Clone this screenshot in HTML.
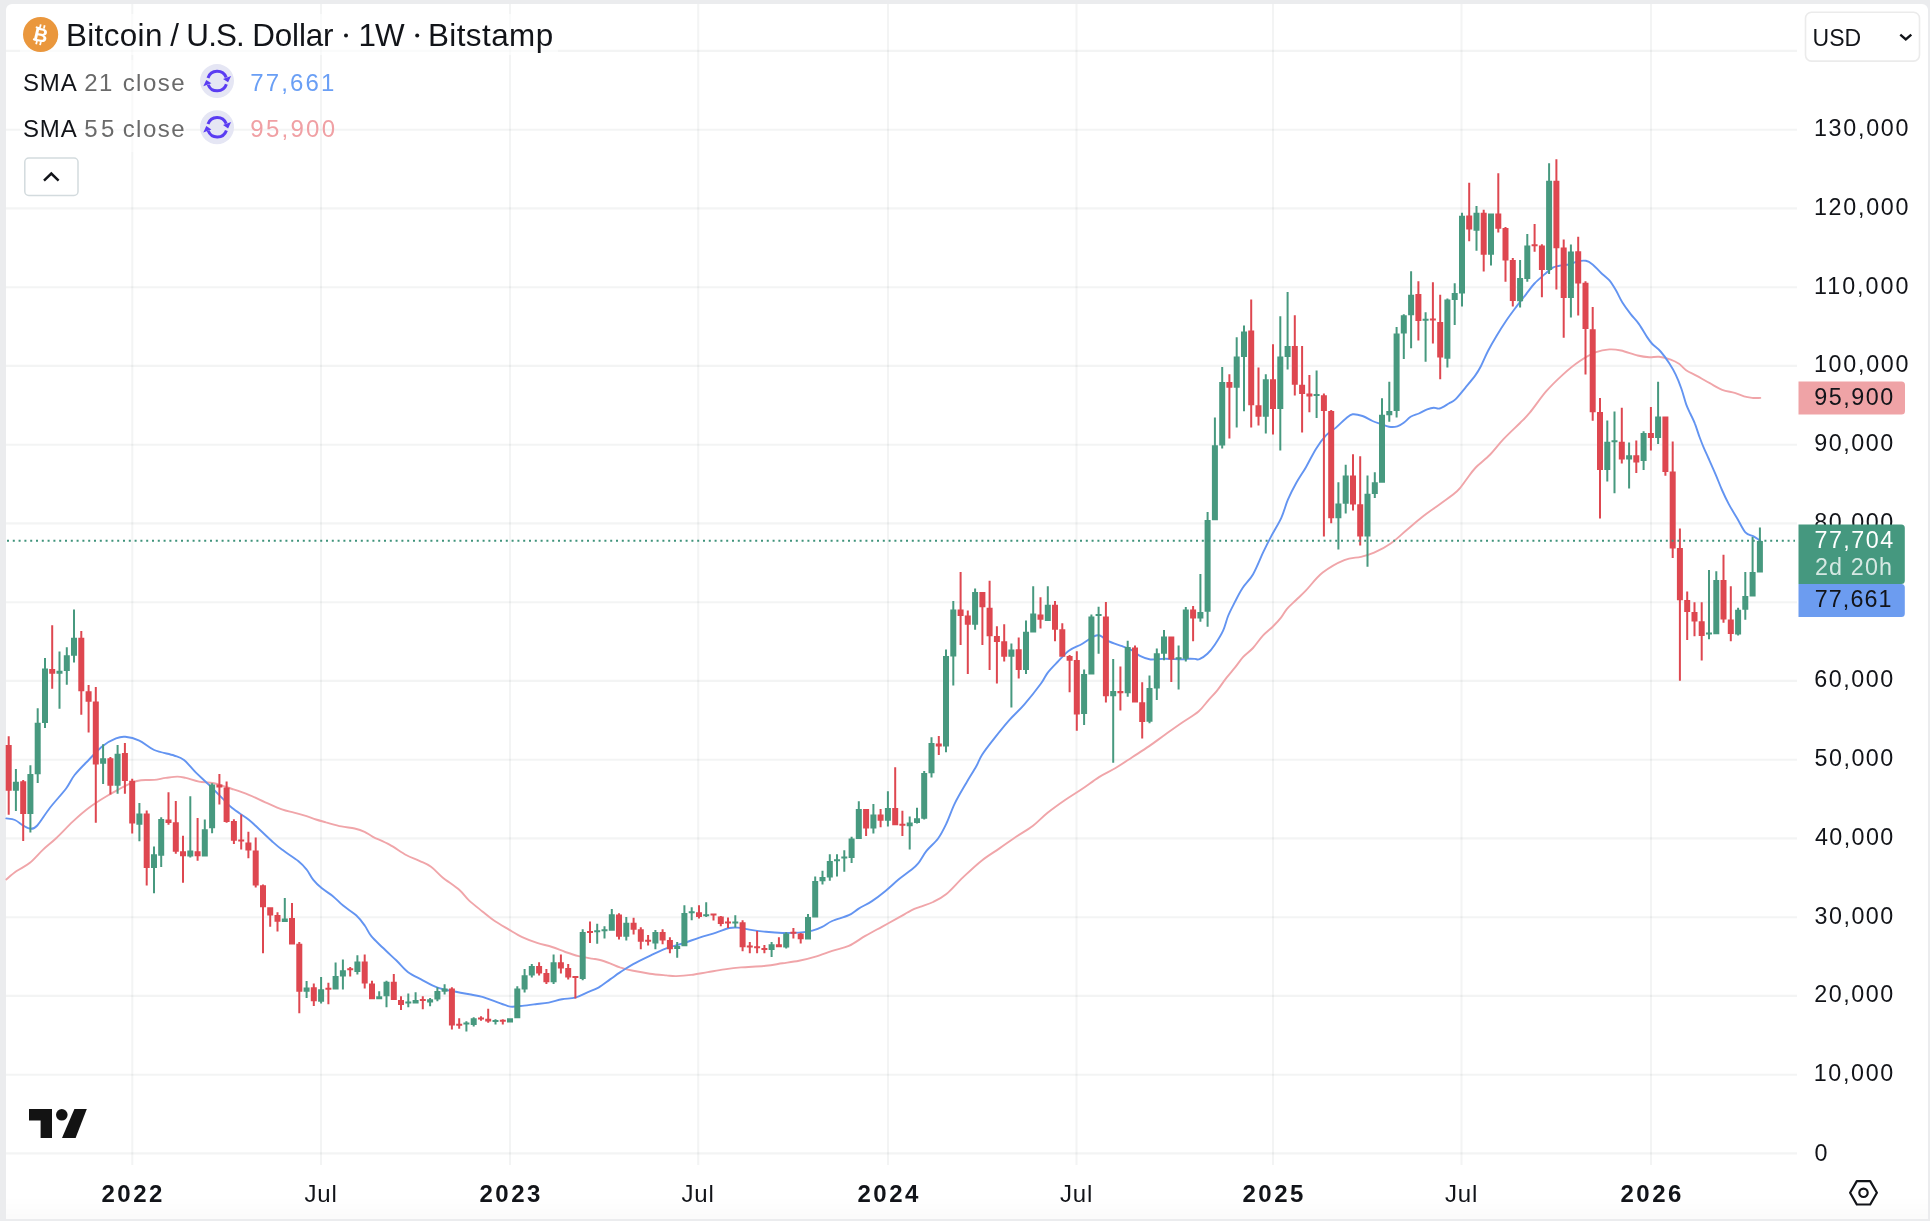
<!DOCTYPE html>
<html><head><meta charset="utf-8"><title>BTCUSD</title>
<style>
html,body{margin:0;padding:0;}
body{width:1930px;height:1221px;overflow:hidden;background:#ebecee;position:relative;font-family:"Liberation Sans",sans-serif;}
#card{position:absolute;left:6px;top:4px;width:1922px;height:1215px;background:#fff;border-radius:6px 6px 0 0;}
svg{position:absolute;left:0;top:0;will-change:transform;}
text{font-family:"Liberation Sans",sans-serif;}
</style></head><body>
<div id="card"></div>
<svg width="1930" height="1221" viewBox="0 0 1930 1221">
<defs><linearGradient id="bg" x1="0" y1="0" x2="0" y2="1"><stop offset="0" stop-color="#000" stop-opacity="0"/><stop offset="1" stop-color="#000" stop-opacity="0.018"/></linearGradient></defs>
<rect x="6" y="1196" width="1922" height="23" fill="url(#bg)"/>
<g stroke="#2a2e39" stroke-opacity="0.055" stroke-width="2.1" fill="none">
<path d="M6 1153.4 H1797"/>
<path d="M6 1074.7 H1797"/>
<path d="M6 995.9 H1797"/>
<path d="M6 917.2 H1797"/>
<path d="M6 838.4 H1797"/>
<path d="M6 759.7 H1797"/>
<path d="M6 680.9 H1797"/>
<path d="M6 602.2 H1797"/>
<path d="M6 523.4 H1797"/>
<path d="M6 444.7 H1797"/>
<path d="M6 365.9 H1797"/>
<path d="M6 287.2 H1797"/>
<path d="M6 208.4 H1797"/>
<path d="M6 129.7 H1797"/>
<path d="M6 50.9 H1797"/>
<path d="M132.3 4 V1165"/>
<path d="M321 4 V1165"/>
<path d="M510 4 V1165"/>
<path d="M698.2 4 V1165"/>
<path d="M888 4 V1165"/>
<path d="M1076.5 4 V1165"/>
<path d="M1273 4 V1165"/>
<path d="M1461.5 4 V1165"/>
<path d="M1651 4 V1165"/>
</g>
<path d="M6.3 879.4C8 878 12.7 873.9 16.6 871.1C20.5 868.3 25.5 866.4 29.9 862.8C34.3 859.2 38.7 853.7 43.1 849.6C47.5 845.5 51.4 842.7 56.4 838C61.4 833.3 67.5 826.5 73 821.4C78.5 816.3 84.1 811.4 89.6 807.3C95.1 803.1 101.1 799.5 106.1 796.5C111.1 793.5 115 791.4 119.4 789C123.8 786.6 129.1 783.9 132.7 782.4C136.3 780.9 137.4 780.6 141 780.2C144.6 779.8 150.1 780.3 154.2 779.9C158.3 779.5 161.9 778.4 165.8 777.9C169.7 777.4 174.1 776.6 177.4 776.6C180.7 776.6 182.1 777.1 185.7 777.9C189.3 778.7 194.3 780.7 199 781.6C203.7 782.5 208.4 782 213.9 783.2C219.4 784.4 226.4 787.1 232.2 789C238 790.9 243.3 792.6 248.8 794.8C254.3 797 259.8 799.9 265.3 802.3C270.8 804.7 277.1 807.7 281.9 809.4C286.7 811.1 289.9 811.5 294 812.6C298.1 813.7 302.9 815.1 306.6 816.2C310.3 817.4 312.8 818.5 316 819.5C319.2 820.5 321.8 821.2 326 822.4C330.2 823.5 336.6 825.4 341.4 826.4C346.2 827.4 350.8 827.6 354.7 828.5C358.6 829.4 361.6 830.4 364.6 831.8C367.6 833.2 368.8 834.6 372.9 836.8C377 838.9 384 841.7 389.5 844.7C395 847.7 401.1 852.3 406.1 855C411.1 857.7 415.2 858.8 419.4 860.8C423.5 862.8 427.1 863.9 431 866.7C434.9 869.5 437.9 873.5 442.6 877.4C447.3 881.2 454.8 885.9 459.2 889.8C463.6 893.7 465.3 897 469.2 900.6C473.1 904.2 478.3 908.1 482.4 911.4C486.5 914.7 489.6 917.5 494 920.5C498.4 923.5 504.3 926.8 509 929.6C513.7 932.4 517.5 934.9 522.2 937.1C526.9 939.3 532.1 941.2 537.1 942.9C542.1 944.5 547.4 945.5 552.1 947C556.8 948.5 560.9 950.5 565.3 952C569.7 953.5 574.2 955 578.6 956.1C583 957.2 588.3 958 591.9 958.6C595.5 959.2 597 959.2 600 960C603 960.8 606.7 962.1 610 963.3C613.3 964.5 616 966.1 619.9 967.4C623.8 968.6 628.2 969.8 633.2 970.8C638.2 971.8 644.3 972.9 649.8 973.7C655.3 974.5 661.9 975 666.3 975.4C670.7 975.8 672.1 976.2 676.3 976.1C680.4 976 686 975.6 691.2 974.9C696.5 974.2 702.3 973 707.8 972.1C713.3 971.2 718.9 970.2 724.4 969.4C729.9 968.6 734.1 968 741 967.4C747.9 966.8 758.9 966.5 765.8 965.8C772.7 965.1 776.9 964.1 782.4 963.3C787.9 962.5 793.5 961.9 799 960.8C804.5 959.7 810.1 958.4 815.6 956.7C821.1 955.1 826.7 952.7 832.2 950.9C837.7 949.1 843.3 948.4 848.8 945.9C854.3 943.4 859.8 939.1 865.3 935.9C870.8 932.7 876.4 929.8 881.9 926.8C887.4 923.8 893.5 920.5 898.5 917.7C903.5 914.9 908.2 912 911.8 910.2C915.4 908.4 916.4 908.3 920 906.9C923.6 905.5 928.8 904.1 933.2 902C937.6 899.9 941.4 898.1 946.4 894C951.4 889.9 957.2 882.9 963 877.4C968.8 871.9 975.2 865.7 981.3 860.9C987.4 856.1 993.7 852.4 999.5 848.4C1005.3 844.4 1010.6 840.5 1016.1 836.8C1021.6 833.1 1027.5 830 1032.7 826C1038 822 1042.1 817.2 1047.6 812.8C1053.1 808.4 1060 803.5 1065.8 799.5C1071.6 795.5 1076.9 792.4 1082.4 788.7C1087.9 785 1093.5 780.6 1099 777.1C1104.5 773.6 1110.1 771.3 1115.6 768C1121.1 764.7 1126.7 760.8 1132.2 757.2C1137.7 753.6 1143.3 750.2 1148.8 746.4C1154.3 742.6 1159.8 738.4 1165.3 734.5C1170.8 730.6 1176.4 726.6 1181.9 722.8C1187.4 719 1194.1 715.3 1198.5 711.5C1202.9 707.7 1205.4 703.6 1208.5 700.1C1211.6 696.6 1214.3 694 1217.3 690.3C1220.3 686.6 1223.5 681.6 1226.4 677.9C1229.3 674.2 1231.9 671.3 1234.7 667.9C1237.5 664.5 1240 660.5 1243 657.2C1246 653.9 1249.7 651.6 1253 648C1256.3 644.4 1259.6 639.2 1262.9 635.6C1266.2 632 1269.9 629.5 1272.9 626.5C1276 623.5 1278.9 620.4 1281.2 617.4C1283.5 614.4 1284.5 611.7 1287 608.8C1289.5 605.9 1292.9 603.1 1296.1 600C1299.3 596.9 1301.6 595 1306 590.4C1310.4 585.8 1316.3 577.6 1322.7 572.6C1329.1 567.6 1337.9 562.7 1344.3 560.1C1350.7 557.5 1355.9 558 1360.9 556.8C1365.9 555.6 1369.1 554.9 1374.1 552.7C1379.1 550.5 1385.2 547.4 1390.7 543.5C1396.2 539.6 1402 533.9 1407.3 529.5C1412.5 525.1 1416.7 521.3 1422.2 517C1427.7 512.7 1434.7 508 1440.5 503.7C1446.3 499.4 1452.8 495.2 1457 491.3C1461.2 487.4 1463 483.9 1466 480C1469 476.1 1471.3 472.2 1475.3 468C1479.3 463.8 1485.5 459.3 1490.2 454.5C1494.9 449.7 1498.5 444.4 1503.5 439.2C1508.5 433.9 1515.6 427.4 1520 423C1524.4 418.6 1525.4 418 1529.8 412.7C1534.2 407.4 1540.8 397.5 1546.3 391.2C1551.8 384.9 1557.4 379.6 1562.9 374.6C1568.4 369.6 1574 365 1579.5 361.3C1585 357.6 1591.1 354.2 1596.1 352.2C1601.1 350.2 1605.2 349.7 1609.4 349.4C1613.6 349.1 1616.3 349.5 1621 350.5C1625.7 351.5 1632.9 354.4 1637.6 355.5C1642.3 356.6 1645.6 357 1649.2 357.2C1652.8 357.4 1655.5 356.4 1659.1 356.8C1662.7 357.2 1667.4 358.5 1670.7 359.7C1674 360.9 1676.4 362.1 1679 363.8C1681.6 365.6 1683 368.1 1686.1 370.2C1689.1 372.2 1693.3 373.9 1697.3 376.1C1701.2 378.3 1705.6 380.9 1709.8 383.2C1714 385.5 1718 388.2 1722.2 389.8C1726.4 391.4 1731.1 391.8 1734.7 392.9C1738.3 394 1741.1 395.5 1744 396.3C1746.9 397.1 1750.1 397.6 1752.1 397.9C1754.1 398.2 1754.8 398 1756.2 398C1757.6 398 1759.6 397.9 1760.3 397.9" fill="none" stroke="#f0a5a9" stroke-width="1.9" stroke-linejoin="round" stroke-linecap="round"/>
<path d="M6.3 818.4C7.7 818.7 12.1 818.8 14.9 820C17.7 821.2 20.6 824 23.2 825.5C25.8 827 28.4 828.8 30.7 828.8C33 828.8 34.1 829 37.3 825.5C40.5 822 45 814.2 49.8 808C54.6 801.8 62.2 793.7 66.3 788.2C70.4 782.7 70.7 779.9 74.6 775C78.5 770.1 84.9 763.9 89.6 759C94.3 754.1 98.4 749.3 102.8 745.9C107.2 742.5 112.3 739.9 116 738.4C119.7 736.9 121.3 736.4 125.2 736.8C129.1 737.2 134.5 738.4 139.3 740.6C144.1 742.8 148.4 747.5 154.2 750C160 752.5 169 753.8 174 755.5C179 757.2 180.4 757.2 184 760C187.6 762.8 191.5 768.2 195.7 772.4C199.9 776.5 204.6 780.6 209 784.9C213.4 789.2 218.3 794.2 222.2 798.1C226.1 802 227.8 804.5 232.2 808.1C236.6 811.7 244.4 816.2 248.8 819.7C253.2 823.2 254.8 825.2 258.7 828.8C262.6 832.4 268.1 837.8 272 841.3C275.9 844.8 277.5 846.3 281.9 849.6C286.3 852.9 294.4 857.9 298.5 861.2C302.6 864.5 304.1 866.4 306.6 869.5C309.1 872.6 310.8 876.8 313.3 879.9C315.8 883 318.3 885.4 321.6 888.1C324.9 890.9 329.6 893.5 333.2 896.4C336.8 899.3 339.2 902.4 343.1 905.6C347 908.8 352.8 912.2 356.4 915.5C360 918.8 362.2 922 364.7 925.5C367.2 929 368.3 932.5 371.3 936.2C374.3 939.9 378.8 943.8 382.9 947.8C387 951.8 392 956.3 396.2 960.3C400.4 964.3 403.6 968.7 407.8 971.9C412 975.1 416.1 976.8 421.1 979.4C426.1 982 431.8 985.5 437.6 987.6C443.4 989.7 450.6 990.7 455.9 991.8C461.2 992.9 464.8 993.5 469.2 994.3C473.6 995.1 478 995.6 482.4 996.8C486.8 998 491.5 1000.2 495.7 1001.7C499.9 1003.2 504.5 1005.1 507.3 1005.9C510.1 1006.7 509.8 1006.7 512.3 1006.7C514.8 1006.7 518.3 1006.3 522.2 1005.9C526.1 1005.5 531.1 1004.8 535.5 1004.2C539.9 1003.7 544.4 1003.4 548.8 1002.6C553.2 1001.8 557.6 1000.1 562 999.3C566.4 998.5 571.1 998.7 575.3 997.6C579.4 996.5 583 994.3 586.9 992.6C590.8 990.9 594.6 989.8 598.5 987.6C602.4 985.4 606.5 981.9 610.1 979.4C613.7 976.9 616.1 974.9 620 972.4C623.9 969.9 628.2 966.9 633.2 964.1C638.2 961.3 644.3 958.4 649.8 955.8C655.3 953.2 660.8 950.5 666.3 948.4C671.8 946.3 677.4 945.2 682.9 943.4C688.4 941.6 694 939.4 699.5 937.6C705 935.8 711.1 934.2 716.1 932.6C721.1 931 725.8 928.8 729.4 928C733 927.2 734.3 927.3 737.6 927.6C740.9 927.9 744.6 928.9 749.3 929.6C754 930.3 760.3 931.2 765.8 931.8C771.3 932.4 776.9 932.9 782.4 933C787.9 933.1 794 933 799 932.6C804 932.2 808.4 931.6 812.3 930.6C816.2 929.6 818.9 928.4 822.2 926.8C825.5 925.2 827.8 922.9 832.2 921C836.6 919.1 844.4 917.3 848.8 915.2C853.2 913.1 854.8 911 858.7 908.6C862.6 906.2 867.6 904 872 901.1C876.4 898.2 880.8 894.8 885.2 891.2C889.6 887.6 894.4 883 898.5 879.6C902.6 876.2 906.7 873.5 910 870.8C913.3 868.1 915.5 866.6 918.2 863.3C921 860 923.2 855 926.5 850.9C929.8 846.8 934.8 843.1 938.1 838.5C941.4 833.9 943.6 829.3 946.4 823.5C949.2 817.7 951.4 810.4 954.7 803.6C958 796.8 962.7 789.1 966.3 782.9C969.9 776.7 973.7 771 976.3 766.3C978.9 761.6 979.1 759.4 982.1 754.7C985.1 750 989.9 743.9 994.5 738.1C999.1 732.3 1004.5 725.5 1009.5 719.9C1014.5 714.3 1019.2 710.4 1024.4 704.3C1029.7 698.2 1037.1 688.8 1041 683.5C1044.9 678.2 1044.8 676.4 1047.6 672.8C1050.3 669.2 1053.9 665.7 1057.5 662C1061.1 658.3 1065 653.4 1069.2 650.4C1073.4 647.4 1078.3 646.1 1082.4 643.7C1086.5 641.4 1091.1 637.7 1094 636.3C1096.9 634.9 1097.3 634.7 1099.8 635.5C1102.3 636.3 1105.3 639.5 1109 641.3C1112.7 643.1 1118.3 644.7 1122.2 646.2C1126.1 647.7 1129.2 648.7 1132.2 650.4C1135.2 652.1 1137.5 654.7 1140.5 656.2C1143.5 657.7 1146.3 659.1 1150.4 659.5C1154.5 659.9 1160 658.7 1165.3 658.7C1170.5 658.7 1178.1 659.4 1181.9 659.4C1185.7 659.4 1186.1 658.9 1188.3 658.8C1190.5 658.7 1193 658.8 1194.9 658.9C1196.8 659 1197.4 660 1199.5 659.1C1201.6 658.2 1204.9 656.2 1207.4 653.8C1210 651.4 1212.2 648.6 1214.8 644.7C1217.4 640.8 1220.9 635.4 1223.1 630.6C1225.3 625.8 1226.2 620.7 1228.1 616C1230 611.3 1232.3 607.1 1234.7 602.4C1237.1 597.7 1239.5 592.7 1242.6 588C1245.7 583.3 1249.7 580.1 1253.1 574.2C1256.5 568.3 1260 559.1 1263 552.7C1266 546.4 1268.2 541.9 1271.3 536.1C1274.3 530.3 1278.5 523.9 1281.3 517.8C1284.1 511.7 1285.4 505.4 1287.9 499.6C1290.4 493.8 1293.2 488.4 1296.2 483C1299.2 477.6 1302.8 472.6 1306.1 466.9C1309.4 461.2 1312.8 453.9 1316.1 448.7C1319.4 443.4 1322.7 438.9 1326 435.4C1329.3 431.9 1332.7 430.4 1336 427.6C1339.3 424.8 1343.1 420.7 1345.9 418.5C1348.7 416.3 1349.8 414.7 1352.6 414.3C1355.4 413.9 1359.2 414.9 1362.5 416C1365.8 417.1 1369.5 419.7 1372.5 421C1375.5 422.3 1378 423 1380.8 424C1383.6 425 1386.3 426.4 1389.1 426.8C1391.8 427.2 1394.8 427.1 1397.3 426.4C1399.8 425.7 1401.8 424.2 1404 422.6C1406.2 421 1408.1 418.3 1410.6 416.8C1413.1 415.3 1416.1 414.7 1418.9 413.5C1421.7 412.3 1424.7 410.4 1427.2 409.4C1429.7 408.4 1431.7 407.8 1433.8 407.7C1435.9 407.6 1437.1 409.2 1439.6 408.5C1442.1 407.8 1446.2 405 1448.8 403.5C1451.4 402 1452.7 402 1455.4 399.4C1458.2 396.8 1462 391.8 1465.3 387.8C1468.6 383.8 1472.7 379 1475.3 375.4C1477.9 371.8 1478.9 370.1 1481 366C1483.1 361.9 1485.4 356 1488 351C1490.6 346 1493.5 341 1496.5 336C1499.5 331 1502.9 325.6 1506 321C1509.1 316.4 1511.7 312.9 1515 308.5C1518.3 304.1 1522.8 298.5 1526 294.3C1529.2 290.1 1531.4 286.8 1534.5 283.5C1537.6 280.2 1541.5 277 1544.5 274.4C1547.5 271.8 1550.3 269.1 1552.8 267.7C1555.3 266.3 1556.6 266.4 1559.4 265.8C1562.2 265.2 1566.4 265.1 1569.4 264.4C1572.4 263.7 1574.8 262 1577.6 261.4C1580.3 260.8 1583.4 260.3 1585.9 260.8C1588.4 261.3 1590.1 262.4 1592.6 264.4C1595.1 266.4 1598.1 270.1 1600.9 272.7C1603.7 275.3 1606.7 277.3 1609.2 280.2C1611.7 283.1 1613.6 286.4 1615.8 290.1C1618 293.8 1619.9 298.6 1622.4 302.6C1624.9 306.6 1627.9 310.6 1630.7 314.2C1633.5 317.8 1636.2 320.2 1639 324.1C1641.8 328 1645.1 334.1 1647.3 337.4C1649.5 340.7 1650.1 341.6 1652.3 344C1654.5 346.4 1657.8 348.3 1660.6 351.5C1663.4 354.7 1666.6 359.1 1669.1 363C1671.6 366.9 1673.7 370.3 1675.7 374.6C1677.8 378.9 1679.7 383.8 1681.4 388.8C1683.2 393.8 1684.7 400.2 1686.2 404.4C1687.7 408.6 1689 410.8 1690.5 414C1692 417.2 1693.5 419.9 1694.9 423.6C1696.4 427.3 1697.8 432.2 1699.2 436.1C1700.7 440.1 1702 443.6 1703.6 447.3C1705.2 451 1706.5 453.8 1708.6 458.5C1710.7 463.2 1713.8 470.1 1716 475.3C1718.2 480.6 1719.9 485.2 1722 490C1724.1 494.8 1726.3 499.4 1728.8 504.1C1731.3 508.8 1734.3 513.5 1737.1 518.2C1739.9 522.9 1742.7 529.3 1745.4 532.3C1748.2 535.3 1751.1 535 1753.6 536.4C1756.1 537.8 1759.2 539.9 1760.3 540.6" fill="none" stroke="#6394f1" stroke-width="1.9" stroke-linejoin="round" stroke-linecap="round"/>
<path fill="#47997f" d="M14.9 769h2v42h-2zM12.9 781.8h6v8.9h-6zM29.4 765.3h2v67.2h-2zM27.4 774h6v39.9h-6zM36.7 708.2h2v74.8h-2zM34.7 722.7h6v51.5h-6zM44 658h2v70h-2zM42 668.4h6v54.6h-6zM58.5 651.4h2v57.3h-2zM56.5 670.8h6v2.9h-6zM65.8 647.2h2v37.5h-2zM63.8 655.2h6v15.7h-6zM73 609.6h2v52.9h-2zM71 637.8h6v17.9h-6zM102.1 744.2h2v39.8h-2zM100.1 758.3h6v5.4h-6zM116.6 745h2v48.7h-2zM114.6 753.8h6v31.9h-6zM138.4 803h2v38.3h-2zM136.4 813.4h6v11.3h-6zM153 846.4h2v46.8h-2zM151 854.2h6v13.9h-6zM160.2 817.2h2v49.8h-2zM158.2 818.9h6v36.8h-6zM189.3 796.2h2v61.3h-2zM187.3 850.4h6v6.1h-6zM203.8 819.4h2v37.1h-2zM201.8 829.2h6v27.3h-6zM211.1 783.2h2v50.1h-2zM209.1 784.5h6v43.8h-6zM283.8 898.1h2v23.9h-2zM281.8 918.4h6v3.6h-6zM305.6 981h2v17.1h-2zM303.6 987.6h6v4.2h-6zM320.1 976.9h2v26.5h-2zM318.1 989.3h6v12.4h-6zM334.6 962.4h2v27.2h-2zM332.6 976h6v13.6h-6zM341.9 959.5h2v30.1h-2zM339.9 970.2h6v6.2h-6zM356.4 955.3h2v19.1h-2zM354.4 961.4h6v10.5h-6zM378.2 991.3h2v8h-2zM376.2 996.3h6v3h-6zM385.5 980.7h2v26.5h-2zM383.5 981.8h6v14.5h-6zM407.3 993.4h2v13.8h-2zM405.3 1001.5h6v2h-6zM414.6 992.3h2v11.1h-2zM412.6 1000h6v3.4h-6zM429.1 998h2v8.2h-2zM427.1 999.3h6v3.3h-6zM436.4 987.3h2v13.9h-2zM434.4 991h6v8.6h-6zM443.6 984.3h2v10.3h-2zM441.6 988.5h6v3.3h-6zM465.4 1021.3h2v10.3h-2zM463.4 1022.5h6v2h-6zM472.7 1017.2h2v9.4h-2zM470.7 1018.3h6v6.7h-6zM494.5 1019.2h2v5.4h-2zM492.5 1020h6v2h-6zM509 1018.3h2v4.2h-2zM507 1018.3h6v4.2h-6zM516.3 986.3h2v32h-2zM514.3 988.5h6v29.8h-6zM523.6 969h2v23.6h-2zM521.6 975.2h6v14.4h-6zM530.8 964h2v13.4h-2zM528.8 966.1h6v9.4h-6zM552.6 954.5h2v29.5h-2zM550.6 962.3h6v19.9h-6zM581.7 929.3h2v50.9h-2zM579.7 932.1h6v46.9h-6zM596.2 923.8h2v19.9h-2zM594.2 930.2h6v2h-6zM603.5 926.3h2v12.2h-2zM601.5 929.2h6v2h-6zM610.8 909.1h2v21.6h-2zM608.8 914.2h6v16.5h-6zM625.3 916.9h2v23.7h-2zM623.3 922.7h6v14.1h-6zM654.4 930.1h2v19.1h-2zM652.4 932.1h6v11.3h-6zM676.2 942.1h2v15.7h-2zM674.2 945.9h6v3h-6zM683.4 905.3h2v40.9h-2zM681.4 913h6v33.2h-6zM690.7 907.2h2v13h-2zM688.7 911.2h6v2h-6zM705.2 902.3h2v14.6h-2zM703.2 914.2h6v2h-6zM734.3 915.2h2v12.4h-2zM732.3 921.4h6v2h-6zM770.6 942.1h2v14.9h-2zM768.6 944.2h6v5.8h-6zM785.2 932.3h2v16.1h-2zM783.2 933.4h6v14.1h-6zM807 913.9h2v25.7h-2zM805 916.9h6v22.7h-6zM814.2 876.4h2v41h-2zM812.2 880.9h6v36.5h-6zM821.5 870.8h2v13.7h-2zM819.5 877.1h6v4.1h-6zM828.8 854.3h2v26.4h-2zM826.8 861h6v16.6h-6zM836 854.3h2v22.3h-2zM834 859.2h6v2.1h-6zM843.3 850.2h2v21.6h-2zM841.3 856.4h6v2h-6zM850.6 836.8h2v26.2h-2zM848.6 838.4h6v19.6h-6zM857.8 801.3h2v37.6h-2zM855.8 809.1h6v29.8h-6zM872.4 804.1h2v29.3h-2zM870.4 814.4h6v14.1h-6zM886.9 791.2h2v35.3h-2zM884.9 807.9h6v12.8h-6zM908.7 816.4h2v33.1h-2zM906.7 822.5h6v3.8h-6zM916 807.8h2v15.8h-2zM914 818.3h6v4.6h-6zM923.2 771.1h2v48.4h-2zM921.2 773h6v45.7h-6zM930.5 737.2h2v40.3h-2zM928.5 743h6v30.2h-6zM945 649.6h2v102.7h-2zM943 655.9h6v90.5h-6zM952.3 601.1h2v84.4h-2zM950.3 609.4h6v47.1h-6zM974.1 588.5h2v41.2h-2zM972.1 592h6v32.7h-6zM1010.4 643.4h2v64.2h-2zM1008.4 649.6h6v7.1h-6zM1025 620.5h2v53.4h-2zM1023 631.8h6v38.2h-6zM1032.2 586.2h2v46.3h-2zM1030.2 613.4h6v19.1h-6zM1046.8 586.2h2v34.7h-2zM1044.8 604.8h6v16.1h-6zM1083.1 669.5h2v55.6h-2zM1081.1 674.1h6v39.8h-6zM1090.4 614.4h2v60h-2zM1088.4 616.4h6v58h-6zM1097.6 606.8h2v46.9h-2zM1095.6 613.9h6v2h-6zM1112.2 659h2v103.7h-2zM1110.2 691h6v5.3h-6zM1126.7 640.8h2v56h-2zM1124.7 647.1h6v46.1h-6zM1148.5 675.6h2v47.6h-2zM1146.5 688h6v33.7h-6zM1155.8 648.4h2v51.7h-2zM1153.8 653.2h6v35.3h-6zM1163 630.1h2v30.2h-2zM1161 636.6h6v17.1h-6zM1177.6 645.4h2v44h-2zM1175.6 657.2h6v2h-6zM1184.8 606.9h2v54.6h-2zM1182.8 609.4h6v49.3h-6zM1199.4 574.1h2v47.6h-2zM1197.4 612h6v6.4h-6zM1206.6 512h2v114.8h-2zM1204.6 520h6v91.7h-6zM1213.9 417.6h2v102.7h-2zM1211.9 445.3h6v75h-6zM1221.2 367.1h2v81.5h-2zM1219.2 382h6v63.6h-6zM1235.7 337.2h2v90.4h-2zM1233.7 356.6h6v31.2h-6zM1243 325.6h2v85.7h-2zM1241 331.4h6v25.7h-6zM1264.8 374.2h2v59.2h-2zM1262.8 379.2h6v37.6h-6zM1279.3 316.2h2v134.4h-2zM1277.3 356.6h6v52.4h-6zM1286.6 291.9h2v77.7h-2zM1284.6 346h6v11.1h-6zM1315.6 370.4h2v47.6h-2zM1313.6 393.9h6v2h-6zM1337.4 482.2h2v67.2h-2zM1335.4 503.4h6v14.9h-6zM1344.7 464.8h2v48.6h-2zM1342.7 475.6h6v28.1h-6zM1366.5 475.5h2v91.3h-2zM1364.5 493.8h6v42.8h-6zM1373.8 472.3h2v25.6h-2zM1371.8 482.2h6v11.9h-6zM1381 398.2h2v84.5h-2zM1379 414.7h6v68h-6zM1388.3 381.7h2v40.1h-2zM1386.3 411h6v4.2h-6zM1395.6 326.9h2v90.7h-2zM1393.6 333.4h6v77.6h-6zM1402.8 314.3h2v44.8h-2zM1400.8 315.2h6v18.2h-6zM1410.1 271.3h2v77h-2zM1408.1 294.8h6v20.5h-6zM1424.6 312.3h2v49.5h-2zM1422.6 318.8h6v2h-6zM1446.4 298.5h2v68.9h-2zM1444.4 299.5h6v59.3h-6zM1453.7 283.3h2v41.8h-2zM1451.7 292.9h6v7h-6zM1461 212.7h2v93.9h-2zM1459 215.8h6v77.6h-6zM1475.5 205.9h2v44.8h-2zM1473.5 212.7h6v18.1h-6zM1490 213.5h2v52.1h-2zM1488 213.5h6v41.3h-6zM1519.1 260h2v47.5h-2zM1517.1 278h6v23.2h-6zM1526.3 234.1h2v47.7h-2zM1524.3 245.4h6v33.6h-6zM1548.1 163.3h2v110.7h-2zM1546.1 180.7h6v89.2h-6zM1569.9 244.5h2v73h-2zM1567.9 251.5h6v46.5h-6zM1606.3 420.5h2v61h-2zM1604.3 441.7h6v28.2h-6zM1613.5 411.6h2v81.7h-2zM1611.5 440.2h6v2h-6zM1628.1 442.6h2v45.9h-2zM1626.1 455.3h6v4.2h-6zM1642.6 431.3h2v38.6h-2zM1640.6 433h6v28.1h-6zM1657.1 381.7h2v62.2h-2zM1655.1 416.4h6v21.5h-6zM1708 570.1h2v69.2h-2zM1706 632.6h6v2h-6zM1715.3 571.3h2v63h-2zM1713.3 580h6v54.3h-6zM1737.1 607.7h2v27.9h-2zM1735.1 609.7h6v24.9h-6zM1744.3 572.1h2v47.6h-2zM1742.3 596.1h6v13.6h-6zM1751.6 536.9h2v59.6h-2zM1749.6 572.1h6v24.4h-6zM1758.9 527.6h2v44.8h-2zM1756.9 540.9h6v31.5h-6z"/>
<path fill="#de4750" d="M7.7 736.3h2v78.4h-2zM5.7 745h6v45.7h-6zM22.2 780h2v60.9h-2zM20.2 781.2h6v32.7h-6zM51.2 625.2h2v63.5h-2zM49.2 669.1h6v4.6h-6zM80.3 631h2v83.7h-2zM78.3 637.8h6v53.4h-6zM87.6 685h2v47.6h-2zM85.6 691.2h6v10.6h-6zM94.8 687h2v135.7h-2zM92.8 701.4h6v63.2h-6zM109.4 757h2v37.5h-2zM107.4 758.3h6v27.4h-6zM123.9 742.9h2v50.8h-2zM121.9 752.9h6v28.1h-6zM131.2 778.7h2v54.8h-2zM129.2 780.8h6v42.7h-6zM145.7 810.6h2v74.9h-2zM143.7 813.4h6v54.7h-6zM167.5 792.3h2v32.4h-2zM165.5 819.4h6v3.6h-6zM174.8 801h2v52.7h-2zM172.8 822.2h6v29.5h-6zM182 835.8h2v46.9h-2zM180 851.2h6v5h-6zM196.6 818h2v42.7h-2zM194.6 851.2h6v5h-6zM218.4 774.1h2v30.3h-2zM216.4 784.5h6v2.9h-6zM225.6 781.6h2v41.1h-2zM223.6 787.4h6v34.5h-6zM232.9 819.2h2v24.9h-2zM230.9 821h6v19.8h-6zM240.2 814.4h2v35.2h-2zM238.2 839.5h6v2h-6zM247.4 831.8h2v26.5h-2zM245.4 842.4h6v8h-6zM254.7 837.6h2v49.8h-2zM252.7 850.4h6v35.1h-6zM262 884.4h2v68.8h-2zM260 885.2h6v22.1h-6zM269.2 907.3h2v19.4h-2zM267.2 907.3h6v8.1h-6zM276.5 912.2h2v19.4h-2zM274.5 915h6v6.7h-6zM291 903.1h2v41.3h-2zM289 917.9h6v26.5h-6zM298.3 942.1h2v71.2h-2zM296.3 943.7h6v48.1h-6zM312.8 983.5h2v22.4h-2zM310.8 987.3h6v13.9h-6zM327.4 982.7h2v21.5h-2zM325.4 987.8h6v2h-6zM349.2 966.9h2v9.5h-2zM347.2 968.2h6v2h-6zM363.7 954.5h2v34h-2zM361.7 961.4h6v22.1h-6zM371 980.7h2v18.6h-2zM369 983.5h6v15.8h-6zM392.8 973.9h2v26.1h-2zM390.8 981.8h6v18.2h-6zM400 996.3h2v13.7h-2zM398 1000h6v5h-6zM421.8 996.3h2v12.9h-2zM419.8 999h6v2h-6zM450.9 987.3h2v42.1h-2zM448.9 988.5h6v37h-6zM458.2 1018.3h2v10.5h-2zM456.2 1023.7h6v2h-6zM480 1016.3h2v4.5h-2zM478 1017.5h6v2h-6zM487.2 1008.7h2v14.1h-2zM485.2 1018.8h6v2.8h-6zM501.8 1019.2h2v5.4h-2zM499.8 1019.8h6v2h-6zM538.1 962.3h2v13.2h-2zM536.1 966.1h6v7.4h-6zM545.4 969h2v15h-2zM543.4 973h6v9.2h-6zM559.9 954.5h2v19h-2zM557.9 962.3h6v6.3h-6zM567.2 964h2v15.4h-2zM565.2 968.1h6v9.3h-6zM574.4 975.9h2v22.5h-2zM572.4 975.9h6v2h-6zM589 921.6h2v21.3h-2zM587 931.1h6v2h-6zM618 913.2h2v26.2h-2zM616 914.5h6v22.2h-6zM632.6 917.7h2v16.9h-2zM630.6 922.7h6v7.1h-6zM639.8 927.3h2v21.9h-2zM637.8 929.3h6v12.4h-6zM647.1 935.1h2v10.3h-2zM645.1 939.7h6v2h-6zM661.6 929.3h2v14.9h-2zM659.6 932.1h6v8.5h-6zM668.9 937.3h2v16h-2zM666.9 940.1h6v9.1h-6zM698 905.3h2v13.2h-2zM696 912.2h6v4.7h-6zM712.5 913.4h2v7.1h-2zM710.5 913.4h6v2h-6zM719.8 916h2v10.3h-2zM717.8 916.4h6v7.6h-6zM727 917.4h2v10.6h-2zM725 921.4h6v2h-6zM741.6 920.2h2v31h-2zM739.6 922.2h6v25h-6zM748.8 942.1h2v11.2h-2zM746.8 945.5h6v2h-6zM756.1 931h2v22.3h-2zM754.1 946.3h6v2h-6zM763.4 945h2v8.3h-2zM761.4 948h6v2h-6zM777.9 937.3h2v9.9h-2zM775.9 944.2h6v3h-6zM792.4 928h2v10.4h-2zM790.4 931.8h6v2h-6zM799.7 933h2v10.4h-2zM797.7 933.4h6v5.9h-6zM865.1 809.1h2v27h-2zM863.1 809.1h6v19.4h-6zM879.6 809.1h2v18.2h-2zM877.6 814.4h6v6.3h-6zM894.2 767.3h2v58h-2zM892.2 807.9h6v17.4h-6zM901.4 810.8h2v25.2h-2zM899.4 823.7h6v2h-6zM937.8 736.1h2v18.9h-2zM935.8 743.4h6v3h-6zM959.6 571.9h2v73h-2zM957.6 609.4h6v6.5h-6zM966.8 610.6h2v63.3h-2zM964.8 615.6h6v9.1h-6zM981.4 592h2v52.9h-2zM979.4 592h6v15.3h-6zM988.6 580.7h2v89.3h-2zM986.6 607.8h6v28.5h-6zM995.9 626.3h2v57.2h-2zM993.9 636h6v6.1h-6zM1003.2 624.3h2v37.2h-2zM1001.2 641.3h6v15.4h-6zM1017.7 637.6h2v41h-2zM1015.7 649.2h6v20.8h-6zM1039.5 597.3h2v31.2h-2zM1037.5 614.4h6v5.3h-6zM1054 601.1h2v40.2h-2zM1052 604.8h6v24.9h-6zM1061.3 623.3h2v33.4h-2zM1059.3 629.2h6v27.5h-6zM1068.6 655h2v37.3h-2zM1066.6 655.9h6v4.8h-6zM1075.8 651.2h2v79.6h-2zM1073.8 660h6v54.6h-6zM1104.9 602h2v100.6h-2zM1102.9 616.4h6v79.9h-6zM1119.4 666.6h2v44h-2zM1117.4 691h6v2.2h-6zM1134 645.4h2v57.2h-2zM1132 647.4h6v55.2h-6zM1141.2 682.2h2v56.4h-2zM1139.2 702.3h6v19.6h-6zM1170.3 636.6h2v45.3h-2zM1168.3 636.6h6v22.9h-6zM1192.1 605.9h2v35.4h-2zM1190.1 609.4h6v9h-6zM1228.4 374.2h2v64.2h-2zM1226.4 382h6v5.8h-6zM1250.2 299.6h2v128h-2zM1248.2 330.6h6v74.6h-6zM1257.5 367.4h2v58.2h-2zM1255.5 405.2h6v11.6h-6zM1272 344.2h2v90.4h-2zM1270 379.2h6v29.8h-6zM1293.8 315.2h2v80.4h-2zM1291.8 346h6v38.8h-6zM1301.1 346h2v86.6h-2zM1299.1 384.8h6v9.1h-6zM1308.4 375h2v37.2h-2zM1306.4 393.6h6v3h-6zM1322.9 393.6h2v143h-2zM1320.9 395.3h6v15.7h-6zM1330.2 409.9h2v113.3h-2zM1328.2 411h6v107.3h-6zM1352 454.2h2v56.2h-2zM1350 475.6h6v29h-6zM1359.2 456.2h2v89.3h-2zM1357.2 504.2h6v32.4h-6zM1417.4 281.2h2v59.3h-2zM1415.4 294h6v27.1h-6zM1431.9 282.3h2v61.2h-2zM1429.9 318.6h6v2h-6zM1439.2 294.8h2v84.4h-2zM1437.2 322h6v35.6h-6zM1468.2 182.7h2v58.5h-2zM1466.2 215.5h6v14.1h-6zM1482.7 209.7h2v61.7h-2zM1480.7 212.7h6v42.1h-6zM1497.3 173.2h2v59.2h-2zM1495.3 213.5h6v15.3h-6zM1504.5 227.1h2v54.7h-2zM1502.5 227.9h6v32.7h-6zM1511.8 258.1h2v48.5h-2zM1509.8 260h6v41h-6zM1533.6 224.1h2v27.6h-2zM1531.6 244.3h6v2h-6zM1540.9 244.2h2v53.1h-2zM1538.9 245.4h6v24.5h-6zM1555.4 159.3h2v130.3h-2zM1553.4 180.7h6v67.5h-6zM1562.7 239.6h2v98.1h-2zM1560.7 247.5h6v50.5h-6zM1577.2 236.7h2v78.8h-2zM1575.2 251.2h6v32.3h-6zM1584.5 281.3h2v93.3h-2zM1582.5 282.7h6v46.3h-6zM1591.7 307h2v113.7h-2zM1589.7 329.2h6v83h-6zM1599 398.1h2v120.4h-2zM1597 411.9h6v58h-6zM1620.8 407.7h2v55.9h-2zM1618.8 441.7h6v17.8h-6zM1635.3 440.6h2v32.3h-2zM1633.3 455.3h6v7.2h-6zM1649.9 406.9h2v43.6h-2zM1647.9 433h6v5.1h-6zM1664.4 416.4h2v59.3h-2zM1662.4 416.4h6v55.5h-6zM1671.7 441.4h2v116.6h-2zM1669.7 471.6h6v76.8h-6zM1678.9 528.5h2v152.2h-2zM1676.9 548h6v52.3h-6zM1686.2 591.5h2v48.6h-2zM1684.2 600h6v11.9h-6zM1693.5 602.3h2v34h-2zM1691.5 611.9h6v9.6h-6zM1700.7 602.3h2v58.2h-2zM1698.7 621.3h6v14.6h-6zM1722.5 554.7h2v68h-2zM1720.5 580h6v39.4h-6zM1729.8 586.2h2v55h-2zM1727.8 619.4h6v14.5h-6z"/>
<path d="M7 540.8 H1795" stroke="#3f937b" stroke-width="2" stroke-dasharray="2 3.8" fill="none"/>
<text x="1814.47" y="1161.3" font-size="23.3" letter-spacing="0.000" fill="#121419">0</text>
<text x="1813.65" y="1081.2" font-size="23.3" letter-spacing="1.673" fill="#121419">10,000</text>
<text x="1814.24" y="1002.4" font-size="23.3" letter-spacing="1.556" fill="#121419">20,000</text>
<text x="1814.47" y="923.7" font-size="23.3" letter-spacing="1.510" fill="#121419">30,000</text>
<text x="1814.93" y="844.9" font-size="23.3" letter-spacing="1.417" fill="#121419">40,000</text>
<text x="1814.47" y="766.2" font-size="23.3" letter-spacing="1.510" fill="#121419">50,000</text>
<text x="1814.24" y="687.4" font-size="23.3" letter-spacing="1.556" fill="#121419">60,000</text>
<text x="1814.24" y="608.7" font-size="23.3" letter-spacing="1.556" fill="#121419">70,000</text>
<text x="1814.35" y="529.9" font-size="23.3" letter-spacing="1.533" fill="#121419">80,000</text>
<text x="1814.35" y="451.2" font-size="23.3" letter-spacing="1.533" fill="#121419">90,000</text>
<text x="1813.95" y="372.4" font-size="23.3" letter-spacing="1.722" fill="#121419">100,000</text>
<text x="1813.95" y="293.7" font-size="23.3" letter-spacing="2.013" fill="#121419">110,000</text>
<text x="1813.95" y="214.9" font-size="23.3" letter-spacing="1.722" fill="#121419">120,000</text>
<text x="1813.95" y="136.2" font-size="23.3" letter-spacing="1.722" fill="#121419">130,000</text>
<path d="M1798.5 381.5 H1901.5 a3.5 3.5 0 0 1 3.5 3.5 V411 a3.5 3.5 0 0 1 -3.5 3.5 H1798.5z" fill="#efa3a6"/>
<text x="1814.35" y="404.9" font-size="23.3" letter-spacing="1.533" fill="#121419">95,900</text>
<path d="M1798.5 524.4 H1901.3 a3.5 3.5 0 0 1 3.5 3.5 V580.5 a3.5 3.5 0 0 1 -3.5 3.5 H1798.5z" fill="#45987f"/>
<text x="1814.43" y="547.8" font-size="23.3" letter-spacing="1.513" fill="#fff">77,704</text>
<text x="1814.93" y="575" font-size="23.3" letter-spacing="1.156" fill="#fff" fill-opacity="0.78">2d 20h</text>
<path d="M1798.5 584 H1901.3 a3.5 3.5 0 0 1 3.5 3.5 V613.5 a3.5 3.5 0 0 1 -3.5 3.5 H1798.5z" fill="#6c9cf0"/>
<text x="1814.84" y="607.4" font-size="23.3" letter-spacing="1.063" fill="#121419">77,661</text>
<text x="133.2" y="1202" font-size="24" font-weight="bold" letter-spacing="2.5" text-anchor="middle" fill="#121419">2022</text>
<text x="511.2" y="1202" font-size="24" font-weight="bold" letter-spacing="2.5" text-anchor="middle" fill="#121419">2023</text>
<text x="889.2" y="1202" font-size="24" font-weight="bold" letter-spacing="2.5" text-anchor="middle" fill="#121419">2024</text>
<text x="1274.2" y="1202" font-size="24" font-weight="bold" letter-spacing="2.5" text-anchor="middle" fill="#121419">2025</text>
<text x="1652.2" y="1202" font-size="24" font-weight="bold" letter-spacing="2.5" text-anchor="middle" fill="#121419">2026</text>
<text x="321" y="1202" font-size="24" letter-spacing="0.8" text-anchor="middle" fill="#121419">Jul</text>
<text x="698" y="1202" font-size="24" letter-spacing="0.8" text-anchor="middle" fill="#121419">Jul</text>
<text x="1076.5" y="1202" font-size="24" letter-spacing="0.8" text-anchor="middle" fill="#121419">Jul</text>
<text x="1461.5" y="1202" font-size="24" letter-spacing="0.8" text-anchor="middle" fill="#121419">Jul</text>
<g fill="none" stroke="#121419" stroke-width="2.2" stroke-linejoin="round">
<path d="M1850.1 1192.8 L1856.8 1181.1 L1870.2 1181.1 L1876.9 1192.8 L1870.2 1204.5 L1856.8 1204.5z"/>
<circle cx="1863.5" cy="1192.8" r="4.2"/>
</g>
<g fill="#131313">
<path d="M29 1109 H52 V1138 H40.6 V1120.6 H29z"/>
<circle cx="61.8" cy="1114.8" r="5.8"/>
<path d="M74.4 1109 H86.8 L75.6 1138 H62z"/>
</g>
<rect x="1805.5" y="12.3" width="114" height="48.8" rx="6" ry="6" fill="#fff" stroke="#ebebeb" stroke-width="1.6"/>
<text x="1812.6" y="45.6" font-size="23" fill="#121419">USD</text>
<path d="M1900.3 34.6 L1905.8 39.4 L1911.3 34.6" fill="none" stroke="#121419" stroke-width="2.4"/>
<rect x="20" y="14" width="538" height="41" fill="#fff" fill-opacity="0.6"/>
<circle cx="40.6" cy="34.5" r="17.6" fill="#ea973d"/>
<g transform="rotate(13 40.6 34.8)">
<text x="40.9" y="41.6" font-size="19.5" font-weight="bold" fill="#fff" text-anchor="middle">B</text>
<path d="M38.4 28 v-3.4 M42.4 28 v-3.4 M38.4 41.4 v3.6 M42.4 41.4 v3.6 M34.2 28.4 h4 M34.2 40.8 h4" stroke="#fff" stroke-width="1.8" fill="none"/>
</g>
<text x="65.89" y="46.1" font-size="31.4" letter-spacing="0.392" fill="#121419">Bitcoin</text>
<text x="170.30" y="46.1" font-size="31.4" letter-spacing="0.000" fill="#121419">/</text>
<text x="186.34" y="46.1" font-size="31.4" letter-spacing="-0.845" fill="#121419">U.S.</text>
<text x="252.19" y="46.1" font-size="31.4" letter-spacing="-0.134" fill="#121419">Dollar</text>
<text x="358.54" y="46.1" font-size="31.4" letter-spacing="-1.088" fill="#121419">1W</text>
<text x="427.89" y="46.1" font-size="31.4" letter-spacing="0.446" fill="#121419">Bitstamp</text>
<circle cx="346" cy="35.6" r="2" fill="#121419"/><circle cx="417.2" cy="35.6" r="2" fill="#121419"/>
<rect x="20" y="60" width="166" height="92" fill="#fff" fill-opacity="0.5"/>
<text x="23.02" y="90.8" font-size="24" letter-spacing="0.810" fill="#121419">SMA</text>
<text x="84.20" y="90.8" font-size="24" letter-spacing="1.540" fill="#6a6a6a">21</text>
<text x="122.64" y="90.8" font-size="24" letter-spacing="1.475" fill="#6a6a6a">close</text>
<text x="250.20" y="90.8" font-size="24" letter-spacing="2.148" fill="#6a9ff5">77,661</text>
<circle cx="217" cy="81.1" r="17" fill="#e5e6f4"/>
<path d="M208 77.9 A9.7 9.7 0 0 1 226.2 77.5" fill="none" stroke="#5a3cf2" stroke-width="3.0"/><path d="M226.4 84.3 A9.7 9.7 0 0 1 208.2 84.7" fill="none" stroke="#5a3cf2" stroke-width="3.0"/><path d="M223 78.9 L231.1 75.9 L228.1 82.3 z" fill="#5a3cf2"/><path d="M211.4 83.3 L203.3 86.3 L206.3 79.9 z" fill="#5a3cf2"/>
<text x="23.02" y="136.9" font-size="24" letter-spacing="0.810" fill="#121419">SMA</text>
<text x="84.34" y="136.9" font-size="24" letter-spacing="3.280" fill="#6a6a6a">55</text>
<text x="122.64" y="136.9" font-size="24" letter-spacing="1.475" fill="#6a6a6a">close</text>
<text x="250.32" y="136.9" font-size="24" letter-spacing="2.256" fill="#f0a0a4">95,900</text>
<circle cx="217" cy="127.2" r="17" fill="#e5e6f4"/>
<path d="M208 124 A9.7 9.7 0 0 1 226.2 123.6" fill="none" stroke="#5a3cf2" stroke-width="3.0"/><path d="M226.4 130.4 A9.7 9.7 0 0 1 208.2 130.8" fill="none" stroke="#5a3cf2" stroke-width="3.0"/><path d="M223 125 L231.1 122 L228.1 128.4 z" fill="#5a3cf2"/><path d="M211.4 129.4 L203.3 132.4 L206.3 126 z" fill="#5a3cf2"/>
<rect x="24.8" y="158" width="53.2" height="37.4" rx="4" ry="4" fill="#fff" stroke="#d3dbde" stroke-width="1.5"/>
<path d="M44 180.6 L51.3 173.6 L58.6 180.6" fill="none" stroke="#121419" stroke-width="2.5"/>
</svg>
</body></html>
